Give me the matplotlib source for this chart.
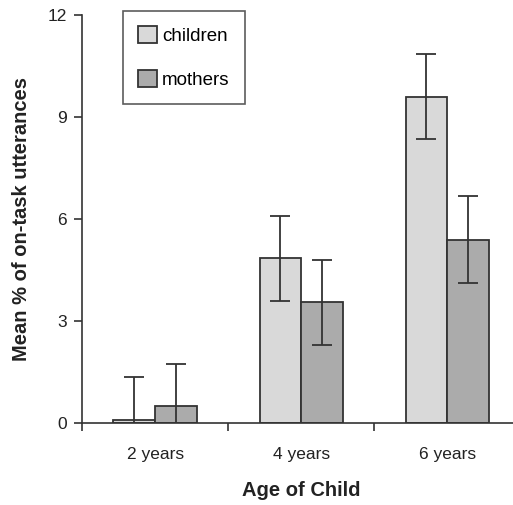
import numpy as np
import matplotlib
matplotlib.use("Agg")
import matplotlib.pyplot as plt
from matplotlib.ticker import FixedLocator

plt.rcParams["font.family"] = ["Liberation Sans", "DejaVu Sans"]

ages = ["2 years", "4 years", "6 years"]
children = [0.1, 4.85, 9.6]
children_err = [1.25, 1.25, 1.25]
mothers = [0.5, 3.55, 5.4]
mothers_err = [1.25, 1.25, 1.27]

fig = plt.figure(figsize=(5.13, 5.05), dpi=100)
ax = fig.add_axes([0.16, 0.162, 0.854, 0.808])

x = np.arange(len(ages))
w = 0.285
edge = "#333333"
ax.bar(x - w / 2, children, w, color="#d9d9d9", edgecolor=edge, linewidth=1.3,
       label="children")
ax.bar(x + w / 2, mothers, w, color="#ababab", edgecolor=edge, linewidth=1.3,
       label="mothers")
ax.errorbar(x - w / 2, children, yerr=children_err, fmt="none", ecolor=edge,
            elinewidth=1.3, capsize=7, capthick=1.3)
ax.errorbar(x + w / 2, mothers, yerr=mothers_err, fmt="none", ecolor=edge,
            elinewidth=1.3, capsize=7, capthick=1.3)

ax.set_xlim(-0.5, 2.5)
ax.set_ylim(0, 12)
ax.set_yticks([0, 3, 6, 9, 12])
ax.set_xticks(x)
ax.set_xticklabels(ages)
ax.xaxis.set_minor_locator(FixedLocator([-0.5, 0.5, 1.5]))
ax.tick_params(axis="x", which="major", length=0, pad=17, labelsize=12.5,
               colors="#222222")
ax.tick_params(axis="x", which="minor", length=6, width=1.2, color=edge)
ax.tick_params(axis="y", length=6, width=1.2, color=edge, labelsize=12.5,
               labelcolor="#222222", pad=5)

for s in ["top", "right"]:
    ax.spines[s].set_visible(False)
for s in ["left", "bottom"]:
    ax.spines[s].set_color(edge)
    ax.spines[s].set_linewidth(1.2)

ax.set_ylabel("Mean % of on-task utterances", fontsize=14.5, fontweight="bold",
              color="#222222", labelpad=12)
ax.set_xlabel("Age of Child", fontsize=14.5, fontweight="bold",
              color="#222222", labelpad=14)

leg = ax.legend(loc="upper left", bbox_to_anchor=(0.093, 1.01), fontsize=13.5,
                frameon=True, fancybox=False, handlelength=1.0,
                handleheight=1.0, handletextpad=0.3, labelspacing=1.35,
                borderpad=0.8, borderaxespad=0)
leg.get_frame().set_edgecolor(edge)
leg.get_frame().set_linewidth(1.2)

fig.savefig("out.png", dpi=100)
